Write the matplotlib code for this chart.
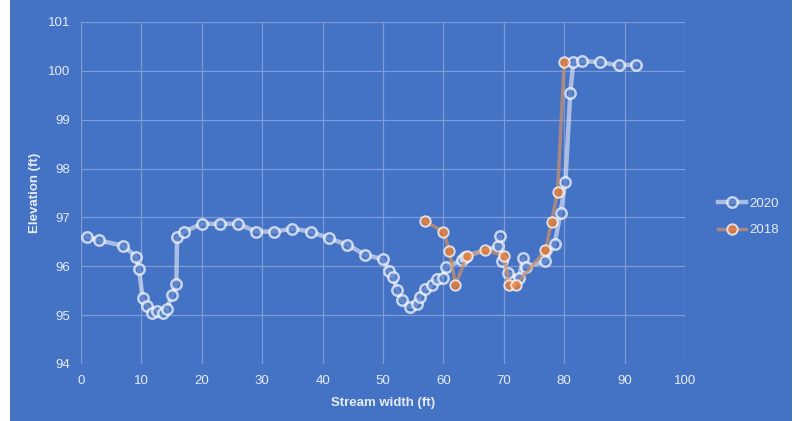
import matplotlib.pyplot as plt
from matplotlib.patches import Rectangle

# 2020 survey
x2020 = [1.0, 3.0, 7.0, 9.1, 9.6, 10.2, 11.0, 11.8, 12.6, 13.5, 14.2, 15.1, 15.8, 15.9,
         17.1, 20.0, 23.0, 26.0, 29.0, 32.0, 35.0, 38.0, 41.1, 44.1, 47.0, 50.05, 51.0,
         51.7, 52.3, 53.1, 54.4, 55.7, 56.2, 57.0, 58.1, 59.0, 59.9, 60.4, 63.0, 63.5,
         69.1, 69.4, 69.7, 70.7, 72.5, 73.2, 73.6, 76.9, 78.4, 79.4, 80.2, 81.0, 81.5,
         82.9, 85.9, 89.0, 91.9]
y2020 = [96.60, 96.53, 96.42, 96.20, 95.94, 95.35, 95.18, 95.04, 95.08, 95.05, 95.12, 95.42,
         95.64, 96.59, 96.71, 96.87, 96.87, 96.87, 96.71, 96.71, 96.77, 96.71, 96.57, 96.44,
         96.24, 96.14, 95.91, 95.78, 95.52, 95.31, 95.17, 95.23, 95.38, 95.53, 95.61, 95.74,
         95.77, 95.98, 96.12, 96.20, 96.41, 96.61, 96.11, 95.86, 95.76, 96.17, 95.99, 96.10,
         96.45, 97.10, 97.72, 99.54, 100.18, 100.20, 100.18, 100.11, 100.13]

# 2018 survey
x2018 = [57.0, 60.0, 61.0, 62.0, 63.9, 66.9, 70.0, 70.9, 72.0, 76.9, 77.9, 78.9, 80.0]
y2018 = [96.92, 96.71, 96.32, 95.62, 96.21, 96.33, 96.22, 95.62, 95.62, 96.33, 96.91,
         97.52, 100.18]

bg = '#4472C4'
txt = '#E6ECF7'
plt.rcParams['font.family'] = ['Liberation Sans Narrow', 'Liberation Sans', 'DejaVu Sans']

fig = plt.figure(figsize=(7.95, 4.21), dpi=100)
fig.patch.set_facecolor(bg)
# white margins left and right of the chart area
fig.patches.append(Rectangle((0, 0), 10 / 795, 1, transform=fig.transFigure,
                             facecolor='white', edgecolor='none'))
fig.patches.append(Rectangle((792 / 795, 0), 3 / 795, 1, transform=fig.transFigure,
                             facecolor='white', edgecolor='none'))

ax = fig.add_axes([81 / 795, 1 - 364 / 421, 604 / 795, 342 / 421])
ax.set_facecolor(bg)

ax.plot(x2020, y2020, color='#D5DEF0', alpha=0.7, lw=3.2, marker='o', ms=7.5,
        mfc=bg, mec='white', mew=1.8, label='2020', zorder=3)
ax.plot(x2018, y2018, color='#C8906E', alpha=0.75, lw=2.5, marker='o', ms=7.5,
        mfc='#ED7D31', mec='white', mew=1.4, label='2018', zorder=4)

ax.set_xlim(0, 100)
ax.set_ylim(94, 101)
ax.set_xticks(range(0, 101, 10))
ax.set_yticks(range(94, 102))
ax.grid(True, color='#7F9BD6', lw=0.9)
for s in ax.spines.values():
    s.set_visible(False)
ax.tick_params(length=0, colors=txt, labelsize=9.5, pad=8)

ax.set_xlabel('Stream width (ft)', color=txt, fontsize=9.5, fontweight='bold', labelpad=7)
ax.set_ylabel('Elevation (ft)', color=txt, fontsize=9.5, fontweight='bold', labelpad=5)

leg = ax.legend(loc='center left', bbox_to_anchor=(1.035, 0.43), frameon=False,
                labelcolor=txt, fontsize=9.5, handlelength=2.1, handletextpad=0.3,
                labelspacing=1.1)

fig.savefig('out.png', dpi=100, facecolor=fig.get_facecolor())
